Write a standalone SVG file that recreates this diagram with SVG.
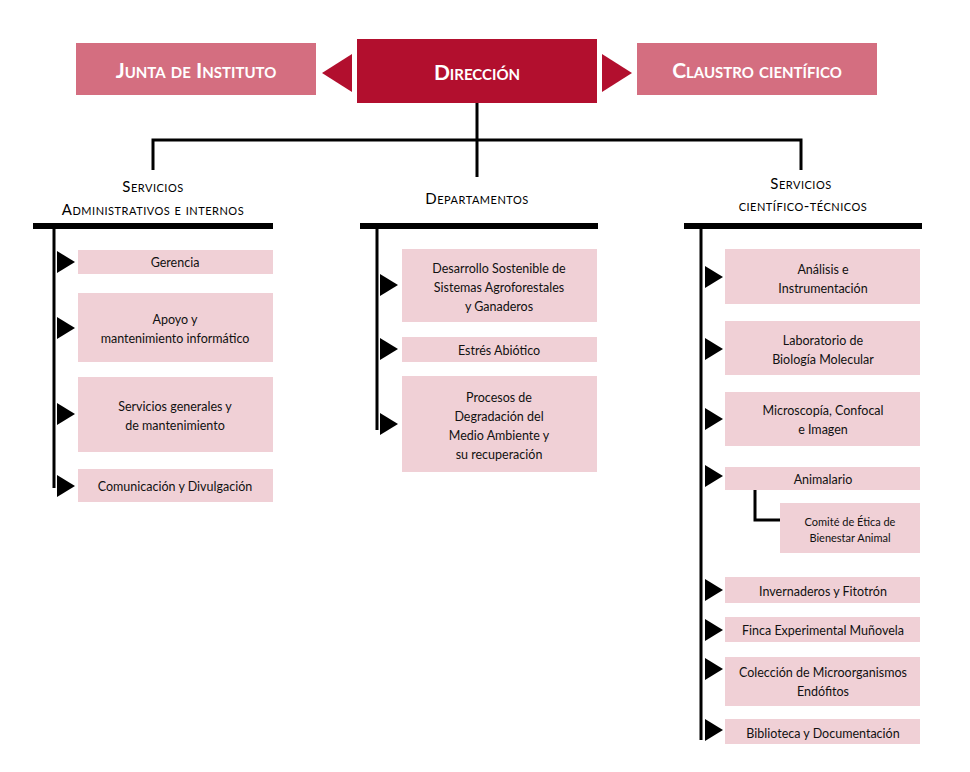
<svg xmlns="http://www.w3.org/2000/svg" width="970" height="772" viewBox="0 0 970 772">
<style>
text{font-family:"Lato","Liberation Sans",sans-serif;text-anchor:middle}
.top{fill:#d46e80}
.dir{fill:#b20f2e}
.tt{fill:#fff;font-size:21px;font-weight:bold;font-variant:small-caps}
.hd{fill:#000;font-size:15px;font-variant:small-caps;letter-spacing:0.5px}
.bx{fill:#f0d0d6}
.t{font-size:12.5px;fill:#111}
.ln{stroke:#000;stroke-width:3;fill:none}
.bar{fill:#000}
.ar{fill:#000}
</style>
<g id="junta"><rect class="top" x="76" y="43" width="240" height="52"/><text class="tt" x="196" y="78">Junta de Instituto</text></g>
<g id="direccion"><rect class="dir" x="357" y="39" width="240" height="64"/><text class="tt" x="477" y="80">Dirección</text></g>
<g id="claustro"><rect class="top" x="637" y="43" width="240" height="52"/><text class="tt" x="757" y="78">Claustro científico</text></g>
<g id="connectors">
<polygon class="dir" points="322,73 352,54 352,92"/>
<polygon class="dir" points="602,54 632,73 602,92"/>
<path class="ln" d="M477,103V177M153,170V140H801V170"/>
<rect class="bar" x="33" y="223" width="240" height="6"/>
<rect class="bar" x="360" y="223" width="238" height="6"/>
<rect class="bar" x="684" y="223" width="238" height="6"/>
<path class="ln" d="M54,229V488M377,229V430M701,229V740M755,490V520H780"/>
<g class="ar">
<polygon points="57,251 75,262 57,273"/>
<polygon points="57,317 75,328 57,339"/>
<polygon points="57,403 75,414 57,425"/>
<polygon points="57,475 75,486 57,497"/>
<polygon points="380,274 398,285 380,296"/>
<polygon points="380,338 398,349 380,360"/>
<polygon points="380,413 398,424 380,435"/>
<polygon points="705,266 723,277 705,288"/>
<polygon points="705,338 723,349 705,360"/>
<polygon points="705,408 723,419 705,430"/>
<polygon points="705,465 723,476 705,487"/>
<polygon points="705,579 723,590 705,601"/>
<polygon points="705,619 723,630 705,641"/>
<polygon points="705,658 723,669 705,680"/>
<polygon points="705,719 723,730 705,741"/>
</g>
</g>
<g id="h-admin"><text class="hd" x="153" y="192">Servicios</text><text class="hd" x="153" y="215">Administrativos e internos</text></g>
<g id="h-dep"><text class="hd" x="477" y="204">Departamentos</text></g>
<g id="h-sct"><text class="hd" x="801" y="189">Servicios</text><text class="hd" x="803" y="211">científico-técnicos</text></g>
<g id="gerencia"><rect class="bx" x="78" y="250" width="195" height="24"/><text class="t" x="175" y="267">Gerencia</text></g>
<g id="apoyo"><rect class="bx" x="78" y="293" width="195" height="69"/><text class="t" x="175" y="324">Apoyo y</text><text class="t" x="175" y="343">mantenimiento informático</text></g>
<g id="servgen"><rect class="bx" x="78" y="377" width="195" height="75"/><text class="t" x="175" y="411">Servicios generales y</text><text class="t" x="175" y="430">de mantenimiento</text></g>
<g id="comunicacion"><rect class="bx" x="78" y="469" width="195" height="33"/><text class="t" x="175" y="491">Comunicación y Divulgación</text></g>
<g id="desarrollo"><rect class="bx" x="402" y="249" width="195" height="73"/><text class="t" x="499" y="273">Desarrollo Sostenible de</text><text class="t" x="499" y="292">Sistemas Agroforestales</text><text class="t" x="499" y="311">y Ganaderos</text></g>
<g id="estres"><rect class="bx" x="402" y="337" width="195" height="25"/><text class="t" x="499" y="355">Estrés Abiótico</text></g>
<g id="procesos"><rect class="bx" x="402" y="376" width="195" height="96"/><text class="t" x="499" y="402">Procesos de</text><text class="t" x="499" y="421">Degradación del</text><text class="t" x="499" y="440">Medio Ambiente y</text><text class="t" x="499" y="459">su recuperación</text></g>
<g id="analisis"><rect class="bx" x="725" y="249" width="195" height="55"/><text class="t" x="823" y="274">Análisis e</text><text class="t" x="823" y="293">Instrumentación</text></g>
<g id="biomol"><rect class="bx" x="725" y="321" width="195" height="54"/><text class="t" x="823" y="345">Laboratorio de</text><text class="t" x="823" y="364">Biología Molecular</text></g>
<g id="microscopia"><rect class="bx" x="725" y="392" width="195" height="54"/><text class="t" x="823" y="415">Microscopía, Confocal</text><text class="t" x="823" y="434">e Imagen</text></g>
<g id="animalario"><rect class="bx" x="725" y="467" width="195" height="23"/><text class="t" x="823" y="484">Animalario</text></g>
<g id="comite"><rect class="bx" x="780" y="503" width="140" height="50"/><text class="t" x="850" y="526" style="font-size:11px">Comité de Ética de</text><text class="t" x="850" y="542" style="font-size:11px">Bienestar Animal</text></g>
<g id="invernaderos"><rect class="bx" x="725" y="577" width="195" height="26"/><text class="t" x="823" y="596">Invernaderos y Fitotrón</text></g>
<g id="finca"><rect class="bx" x="725" y="617" width="195" height="25"/><text class="t" x="823" y="635">Finca Experimental Muñovela</text></g>
<g id="coleccion"><rect class="bx" x="725" y="657" width="195" height="49"/><text class="t" x="823" y="677">Colección de Microorganismos</text><text class="t" x="823" y="696">Endófitos</text></g>
<g id="biblioteca"><rect class="bx" x="725" y="719" width="195" height="25"/><text class="t" x="823" y="738">Biblioteca y Documentación</text></g>
</svg>
